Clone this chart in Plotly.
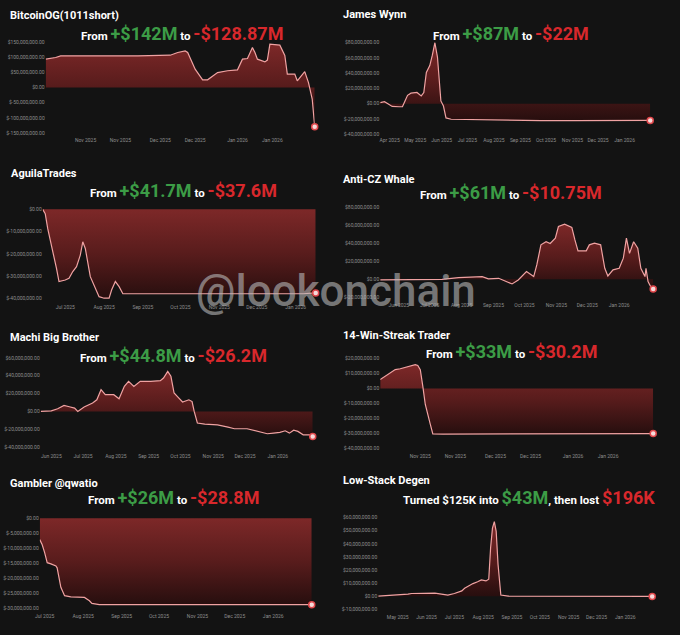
import plotly.graph_objects as go

W, H = 680, 635
BG = "#131313"

# ---------------- data (PnL in USD millions) ----------------
btc_dates = ["2025-10-16", "2025-10-20", "2025-10-22", "2025-10-27", "2025-11-09", "2025-11-22",
             "2025-12-05", "2025-12-08", "2025-12-11", "2025-12-12", "2025-12-15", "2025-12-18",
             "2025-12-20", "2025-12-24", "2025-12-28", "2026-01-01", "2026-01-03", "2026-01-05",
             "2026-01-07", "2026-01-08", "2026-01-09", "2026-01-12", "2026-01-13", "2026-01-14",
             "2026-01-18", "2026-01-20", "2026-01-21", "2026-01-24", "2026-01-25", "2026-01-28",
             "2026-01-29 12:00", "2026-01-31", "2026-02-01"]
btc_pnl = [93, 98.5, 104, 104, 102, 104, 106, 115, 120, 115, 60, 25, 25, 49, 55, 58, 93, 95,
           131, 115, 93, 84, 90, 142, 139, 105, 44, 44, 22, 52, 16, -38, -128.87]

jw_dates = ["2025-03-21", "2025-03-26", "2025-03-30", "2025-04-04", "2025-04-12", "2025-04-16",
            "2025-04-19", "2025-04-22", "2025-04-26", "2025-05-03", "2025-05-08", "2025-05-11",
            "2025-05-14", "2025-05-18", "2025-05-21", "2025-05-24", "2025-05-27", "2025-05-29",
            "2025-05-31", "2025-06-03", "2025-06-06", "2025-06-12", "2025-07-12", "2025-07-24",
            "2025-08-20", "2025-09-25", "2025-11-04", "2025-12-13", "2026-01-05", "2026-01-09",
            "2026-01-31"]
jw_pnl = [1.3, 2.7, 0, -3.6, -4, -4, 3.6, 11, 13.8, 14.7, 10.2, 14.7, 41, 50, 63.6, 80, 61, 32,
          3.6, -3.1, -18.7, -20.4, -20.9, -21.8, -22.2, -22.2, -22.2, -22.2, -21.5, -22, -22]

ag_dates = ["2025-06-13", "2025-06-15", "2025-06-17", "2025-06-19", "2025-06-21", "2025-06-24",
            "2025-06-26", "2025-07-01", "2025-07-04", "2025-07-07", "2025-07-10", "2025-07-13",
            "2025-07-15", "2025-07-17", "2025-07-21", "2025-07-24", "2025-07-28", "2025-08-01",
            "2025-08-05", "2025-08-07", "2025-08-10", "2025-08-13", "2025-08-16", "2025-08-27",
            "2025-09-22", "2025-11-13", "2026-01-07", "2026-01-17"]
ag_pnl = [0, -1.9, -8.7, -13.9, -17.6, -26.6, -32.5, -31.8, -31, -28, -25.8, -20.6, -14.6, -17.6,
          -30.3, -34, -39.3, -40, -40, -36.3, -32.5, -34.8, -38, -38, -38, -38, -38, -37.6]

cz_dates = ["2025-05-14", "2025-06-11", "2025-07-13", "2025-07-29", "2025-08-21", "2025-08-27",
            "2025-09-06", "2025-09-19", "2025-09-25", "2025-10-03", "2025-10-10", "2025-10-13",
            "2025-10-17", "2025-10-22", "2025-10-26", "2025-10-31", "2025-11-03", "2025-11-09",
            "2025-11-16", "2025-11-19", "2025-11-22", "2025-11-30", "2025-12-03", "2025-12-08",
            "2025-12-14", "2025-12-18", "2025-12-21", "2025-12-26", "2026-01-01", "2026-01-05",
            "2026-01-08", "2026-01-11", "2026-01-15", "2026-01-19", "2026-01-22", "2026-01-26",
            "2026-01-27", "2026-01-29", "2026-02-01", "2026-02-03"]
cz_pnl = [-0.7, -0.7, 0, 1.9, 3, 0.4, 1.1, -5.2, -0.7, 8.6, 3, 16, 38.5, 42, 40, 46, 59, 61.7, 58,
          44, 31.8, 31.8, 38.5, 40.4, 38.5, 12.3, 3.7, 10.5, 12.3, 23.6, 46, 29, 42, 34.8, 12.3, 3,
          12.3, -2.6, -9.3, -10.75]

mc_dates = ["2025-05-22", "2025-06-01", "2025-06-07", "2025-06-13", "2025-06-18", "2025-06-23",
            "2025-06-26", "2025-07-02", "2025-07-10", "2025-07-14", "2025-07-18", "2025-07-22",
            "2025-07-30", "2025-08-04", "2025-08-09", "2025-08-13", "2025-08-18", "2025-08-24",
            "2025-09-03", "2025-09-12", "2025-09-15", "2025-09-19", "2025-09-22", "2025-09-25",
            "2025-09-28", "2025-10-03", "2025-10-09", "2025-10-12", "2025-10-14", "2025-10-17",
            "2025-10-24", "2025-11-05", "2025-11-15", "2025-11-21", "2025-12-03", "2025-12-13",
            "2025-12-22", "2025-12-28", "2026-01-03", "2026-01-08", "2026-01-12", "2026-01-16",
            "2026-01-20", "2026-01-25", "2026-01-31", "2026-02-03"]
mc_pnl = [0, 0.7, 3, 6.7, 5.2, 3.7, 0, 4.9, 9.3, 13, 24.3, 18.7, 18.7, 14.2, 28, 33.6, 28, 33.6,
          33.6, 34.4, 37.4, 44.8, 39.3, 20.6, 16.8, 10.5, 13, 11, 0, -13, -14.2, -15, -17.6, -19.4,
          -19.4, -22.4, -25, -24.3, -23.5, -21.7, -24.3, -21, -22.4, -26.2, -26.2, -28]

ws_dates = ["2025-10-16", "2025-10-18", "2025-10-20", "2025-10-22", "2025-10-24", "2025-10-27",
            "2025-10-30", "2025-10-31", "2025-11-01", "2025-11-02", "2025-11-03", "2025-11-05",
            "2025-11-06", "2025-11-10", "2025-12-06", "2026-01-02", "2026-02-02"]
ws_pnl = [6, 8.2, 10.4, 12.7, 13.3, 14.9, 16, 15.5, 12.7, 1.6, -10.7, -24, -30.5, -30.6, -30.6,
          -30.5, -30.2]

gq_dates = ["2025-06-27", "2025-06-29", "2025-07-01", "2025-07-03", "2025-07-06", "2025-07-10",
            "2025-07-11", "2025-07-14", "2025-07-17", "2025-07-22", "2025-08-02", "2025-08-06",
            "2025-08-08", "2025-08-14", "2025-09-13", "2025-11-07", "2025-12-30", "2026-02-01"]
gq_pnl = [-7.1, -8.8, -11.5, -14.8, -15.2, -15.9, -16.5, -23, -25.8, -26.2, -26.4, -27.5, -28.4,
          -28.8, -28.8, -28.8, -28.8, -28.8]

ls_dates = ["2025-04-10", "2025-04-25", "2025-05-12", "2025-05-16", "2025-06-10", "2025-06-17",
            "2025-06-24", "2025-07-01", "2025-07-09", "2025-07-12", "2025-07-16", "2025-07-21",
            "2025-07-26", "2025-07-30", "2025-08-04", "2025-08-07", "2025-08-09", "2025-08-11",
            "2025-08-13", "2025-08-15", "2025-08-17", "2025-08-19", "2025-08-20", "2025-08-28",
            "2026-01-30"]
ls_pnl = [0, 0.5, 1.5, 2, 2.3, 1.5, 0.8, 2, 4, 6, 7.8, 9.6, 11, 12.4, 11.6, 12.9, 37, 52, 57, 49.6,
          24.3, 4, 0.8, 0, -0.2]

# titles / headline text
names = ["BitcoinOG(1011short)", "James Wynn", "AguilaTrades", "Anti-CZ Whale",
         "Machi Big Brother", "14-Win-Streak Trader", "Gambler @qwatio", "Low-Stack Degen"]
peaks = ["+$142M", "+$87M", "+$41.7M", "+$61M", "+$44.8M", "+$33M", "+$26M", "$43M"]
losses = ["-$128.87M", "-$22M", "-$37.6M", "-$10.75M", "-$26.2M", "-$30.2M", "-$28.8M", "$196K"]

# y tick values (USD millions)
yt_btc = [-150, -100, -50, 0, 50, 100, 150]
yt_jw = [-40, -20, 0, 20, 40, 60, 80]
yt_ag = [-40, -30, -20, -10, 0]
yt_cz = [-20, 0, 20, 40, 60, 80]
yt_mc = [-40, -20, 0, 20, 40, 60]
yt_ws = [-40, -30, -20, -10, 0, 10, 20]
yt_gq = [-30, -25, -20, -15, -10, -5, 0]
yt_ls = [-10, 0, 10, 20, 30, 40, 50, 60]

# x tick dates
semi = ["2025-11-01", "2025-11-15", "2025-12-01", "2025-12-15", "2026-01-01", "2026-01-15"]
xt_jw = ["2025-%02d-01" % m for m in range(4, 13)] + ["2026-01-01"]
xt_ag = ["2025-%02d-01" % m for m in range(7, 13)] + ["2026-01-01"]
xt_cz = ["2025-%02d-01" % m for m in range(6, 13)] + ["2026-01-01"]
xt_mc = xt_cz
xt_gq = xt_ag
xt_ls = ["2025-%02d-01" % m for m in range(5, 13)] + ["2026-01-01"]

series = [
    (btc_dates, btc_pnl, yt_btc, semi),
    (jw_dates, jw_pnl, yt_jw, xt_jw),
    (ag_dates, ag_pnl, yt_ag, xt_ag),
    (cz_dates, cz_pnl, yt_cz, xt_cz),
    (mc_dates, mc_pnl, yt_mc, xt_mc),
    (ws_dates, ws_pnl, yt_ws, semi),
    (gq_dates, gq_pnl, yt_gq, xt_gq),
    (ls_dates, ls_pnl, yt_ls, xt_ls),
]

# ---------------- layout geometry (pixels) ----------------
boxes = [  # x0, x1, y_top, y_bottom, y range
    (41, 312, 36, 134, [-160, 160]),
    (378, 650, 36, 134, [-42.6, 85.2]),
    (38, 313, 207, 302, [-42.2, 0.3]),
    (378, 653, 200, 300, [-24.4, 86.7]),
    (36, 310, 352, 452, [-45.6, 65.6]),
    (378, 653, 355, 452, [-42.7, 22]),
    (35, 309, 518, 613, [-31.3, 0.2]),
    (376, 652, 512, 614, [-13, 64.5]),
]
title_pos = [(3, 13), (338, 12), (4, 172), (338, 178), (3, 337), (338, 335), (3, 484), (338, 481)]
sub_pos = [(178, 31), (510, 31), (180, 189), (510, 191), (170, 355), (510, 351), (170, 498), (528, 498)]

GREEN = "#3c9c46"
RED = "#d8282c"
LINE = "#f0a2a2"
FONT = "Roboto"


def money(v):
    return "$" + format(v * 1e6, ",.2f")


fig = go.Figure()
layout = dict(
    width=W, height=H, paper_bgcolor=BG, plot_bgcolor=BG,
    margin=dict(l=0, r=0, t=0, b=0), showlegend=False,
    font=dict(family=FONT, color="#8d8d8d", size=5),
)
annotations = []

for i, ((dts, vals, yt, xt), (x0, x1, yt_px, yb_px, yr)) in enumerate(zip(series, boxes)):
    k = "" if i == 0 else str(i + 1)
    xa, ya = "x" + k, "y" + k
    lo = min(min(vals), 0)
    hi = max(max(vals), 0)
    fig.add_trace(go.Scatter(
        x=dts, y=vals, xaxis=xa, yaxis=ya, mode="lines",
        line=dict(color=LINE, width=1.2),
        fill="tozeroy",
        fillgradient=dict(type="vertical", start=lo, stop=hi,
                          colorscale=[[0, "rgb(38,14,14)"], [0.5, "rgb(88,28,28)"],
                                      [1, "rgb(125,40,40)"]]),
        hoverinfo="skip",
    ))
    fig.add_trace(go.Scatter(
        x=[dts[-1]], y=[vals[-1]], xaxis=xa, yaxis=ya, mode="markers",
        marker=dict(size=6, color="#f6dada", line=dict(color="#e0484c", width=1.5)),
        cliponaxis=False, hoverinfo="skip",
    ))
    layout["xaxis" + k] = dict(
        domain=[x0 / W, x1 / W], anchor=ya, range=[dts[0], dts[-1]], type="date",
        tickvals=xt, tickformat="%b %Y", showgrid=False, zeroline=False,
        showline=False, ticks="", tickfont=dict(size=5, color="#8d8d8d"),
    )
    layout["yaxis" + k] = dict(
        domain=[1 - yb_px / H, 1 - yt_px / H], anchor=xa, range=yr,
        tickvals=yt, ticktext=[money(v) for v in yt], showgrid=False, zeroline=False,
        showline=False, ticks="", tickfont=dict(size=5, color="#8d8d8d"),
    )
    tx, ty = title_pos[i]
    annotations.append(dict(
        x=tx / W, y=1 - ty / H, xref="paper", yref="paper", xanchor="left", yanchor="middle",
        text="<b>%s</b>" % names[i], showarrow=False,
        font=dict(family=FONT, size=11, color="#ffffff"),
    ))
    sx, sy = sub_pos[i]
    big = "font-size:18px"
    if i == 7:
        sub = ("<b>Turned $125K into <span style='%s;color:%s'>%s</span>, then lost "
               "<span style='%s;color:%s'>%s</span></b>") % (big, GREEN, peaks[i], big, RED, losses[i])
    else:
        sub = ("<b>From <span style='%s;color:%s'>%s</span> to "
               "<span style='%s;color:%s'>%s</span></b>") % (big, GREEN, peaks[i], big, RED, losses[i])
    annotations.append(dict(
        x=sx / W, y=1 - sy / H, xref="paper", yref="paper", xanchor="center", yanchor="middle",
        text=sub, showarrow=False, font=dict(family=FONT, size=11.5, color="#ffffff"),
    ))

annotations.append(dict(
    x=333 / W, y=1 - 290 / H, xref="paper", yref="paper", xanchor="center", yanchor="middle",
    text="@lookonchain", showarrow=False,
    font=dict(family=FONT, size=44, color="rgba(185,185,185,0.6)", weight=500),
))
layout["annotations"] = annotations
fig.update_layout(**layout)
fig.write_html(
    "out.html",
    config={"displayModeBar": False, "staticPlot": True},
    post_script="document.body.style.margin='0';document.body.style.overflow='hidden';"
                "document.body.style.background='%s';" % BG,
)
